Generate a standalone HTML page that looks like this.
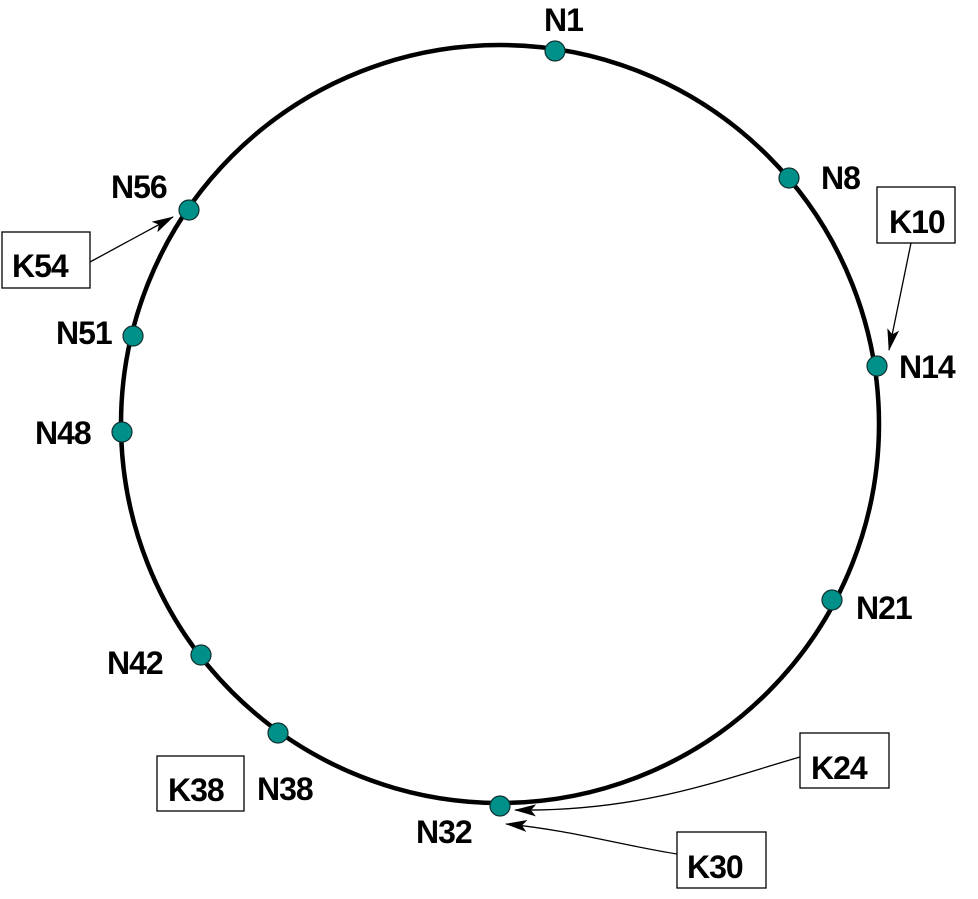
<!DOCTYPE html>
<html><head><style>
html,body{margin:0;padding:0;background:#fff;}
svg text{font-family:"Liberation Sans",Arial,sans-serif;font-weight:bold;font-size:32px;fill:#000;letter-spacing:-1px;}
</style></head><body>
<svg width="978" height="894" viewBox="0 0 978 894" xmlns="http://www.w3.org/2000/svg">
<defs>
<marker id="a" markerWidth="22" markerHeight="12" refX="21" refY="6" orient="auto" markerUnits="userSpaceOnUse">
<path d="M0,0 L22,6 L0,12 L5,6 Z" fill="#000"/>
</marker>
</defs>
<circle cx="500" cy="424" r="379" fill="none" stroke="#000" stroke-width="4.5"/>
<g fill="#00908a" stroke="#103030" stroke-width="1.2">
<circle cx="555" cy="51" r="10"/>
<circle cx="789" cy="178" r="10"/>
<circle cx="877" cy="366" r="10"/>
<circle cx="832" cy="600" r="10"/>
<circle cx="500" cy="806" r="10"/>
<circle cx="278" cy="733" r="10"/>
<circle cx="201" cy="655" r="10"/>
<circle cx="122" cy="432" r="10"/>
<circle cx="133" cy="336" r="10"/>
<circle cx="189" cy="210" r="10"/>
</g>
<text x="544" y="31">N1</text>
<text x="821" y="189">N8</text>
<text x="899" y="378">N14</text>
<text x="856" y="619">N21</text>
<text x="416" y="843">N32</text>
<text x="257" y="800">N38</text>
<text x="107" y="674">N42</text>
<text x="35" y="444">N48</text>
<text x="56" y="344">N51</text>
<text x="111" y="198">N56</text>
<g fill="#fff" stroke="#000" stroke-width="1.3">
<rect x="2" y="232" width="88" height="56"/>
<rect x="877" y="187" width="78" height="56"/>
<rect x="800" y="733" width="89" height="55"/>
<rect x="677" y="832" width="89" height="56"/>
<rect x="157" y="756" width="87" height="55"/>
</g>
<text x="12" y="277">K54</text>
<text x="889" y="233">K10</text>
<text x="811" y="779">K24</text>
<text x="687" y="878">K30</text>
<text x="168" y="801">K38</text>
<g fill="none" stroke="#000" stroke-width="1.3" marker-end="url(#a)">
<line x1="90" y1="262" x2="173" y2="217"/>
<line x1="911" y1="243" x2="889" y2="350"/>
<path d="M800,757 C720,780 640,812 515,810"/>
<path d="M677,854 C620,845 570,830 506,824"/>
</g>
</svg>
</body></html>
